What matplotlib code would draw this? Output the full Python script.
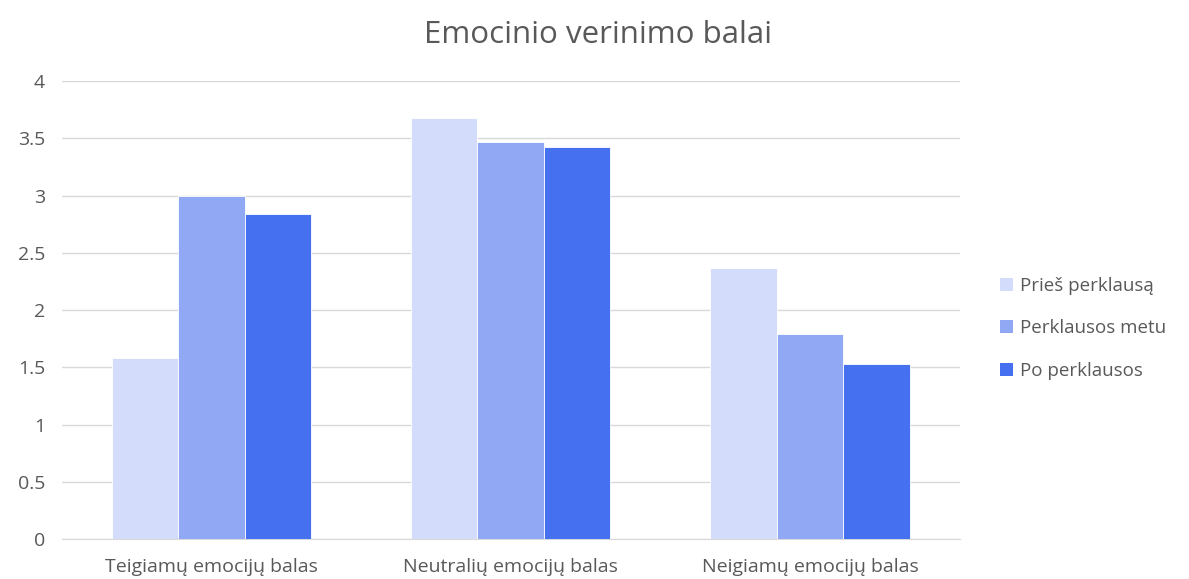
import numpy as np
import matplotlib.pyplot as plt
from matplotlib.patches import Patch

categories = ["Teigiamų emocijų balas", "Neutralių emocijų balas", "Neigiamų emocijų balas"]
series_names = ["Prieš perklausą", "Perklausos metu", "Po perklausos"]
before = [1.58, 3.68, 2.37]
during = [3.00, 3.47, 1.79]
after = [2.84, 3.42, 1.53]
colors = ["#D3DCFA", "#91A8F4", "#4570F0"]

plt.rcParams['font.family'] = ['Open Sans', 'DejaVu Sans']
text_color = "#595959"

fig = plt.figure(figsize=(11.89, 5.79), dpi=100)
ax = fig.add_axes([0.052, 0.069, 0.755, 0.791])

x = np.arange(len(categories))
width = 2 / 9
for i, (vals, c) in enumerate(zip([before, during, after], colors)):
    ax.bar(x + (i - 1) * width, vals, width, color=c, edgecolor="white",
           linewidth=0.6, zorder=3, label=series_names[i])

ax.set_xlim(-0.5, 2.5)
ax.set_ylim(0, 4)
ax.set_yticks(np.arange(0, 4.01, 0.5))
ax.set_yticklabels(["0", "0.5", "1", "1.5", "2", "2.5", "3", "3.5", "4"])
ax.set_xticks(x)
ax.set_xticklabels(categories)
ax.grid(axis="y", color="#D9D9D9", linewidth=1, zorder=0)
for s in ["top", "right", "left"]:
    ax.spines[s].set_visible(False)
ax.spines["bottom"].set_color("#D9D9D9")
ax.tick_params(axis="both", length=0, labelsize=14, colors=text_color)
ax.tick_params(axis="x", pad=14)
ax.tick_params(axis="y", pad=12)

fig.text(0.503, 0.94, "Emocinio verinimo balai", ha="center", va="center",
         fontsize=22.5, color=text_color)

handles = [Patch(facecolor=c, edgecolor="none") for c in colors]
fig.legend(handles, series_names, loc="center left", bbox_to_anchor=(0.827, 0.433),
           frameon=False, fontsize=13.5, labelcolor=text_color, handlelength=0.7,
           handleheight=0.7, handletextpad=0.35, labelspacing=1.3)

fig.savefig("out.png", dpi=100)
